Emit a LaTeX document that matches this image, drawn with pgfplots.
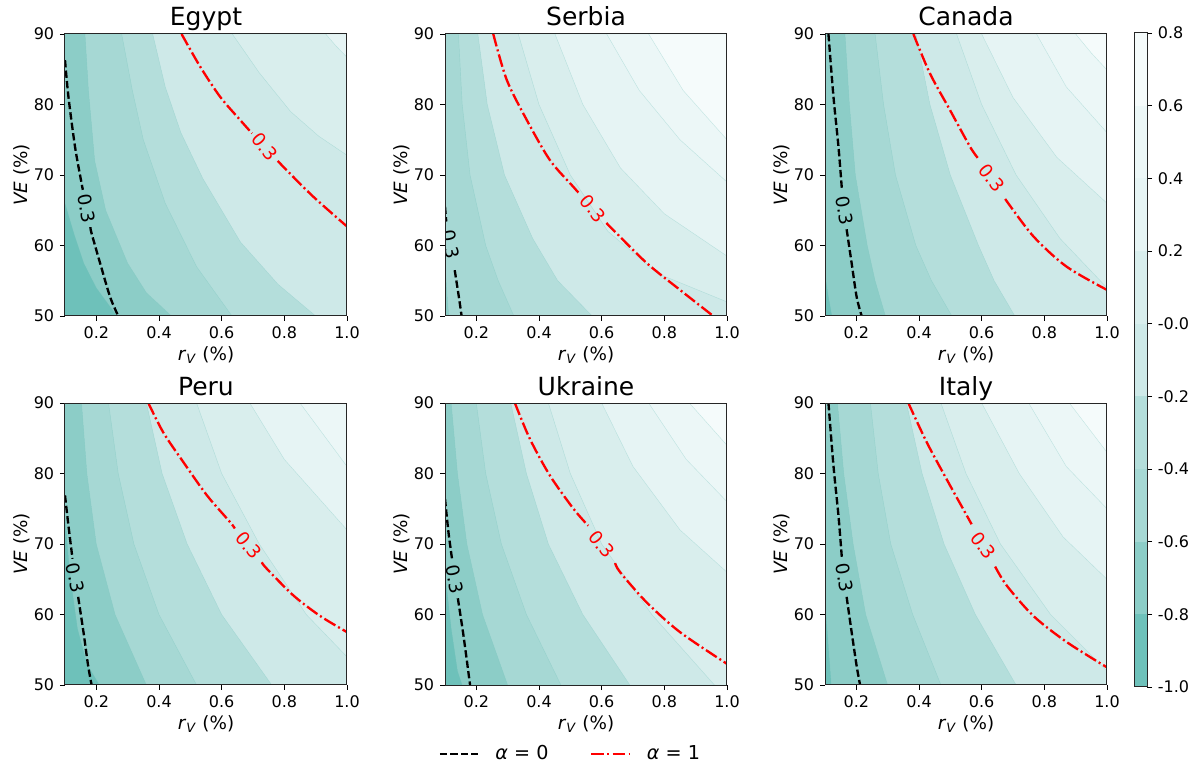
\documentclass[border=0pt]{standalone}
\usepackage{fontspec}
\setmainfont{DejaVu Sans}
\usepackage{pgfplots}
\pgfplotsset{compat=1.18}
\definecolor{D1}{RGB}{110,193,186}
\definecolor{D2}{RGB}{140,205,199}
\definecolor{D3}{RGB}{166,216,212}
\definecolor{D4}{RGB}{180,222,219}
\definecolor{D5}{RGB}{206,233,232}
\definecolor{D6}{RGB}{217,238,237}
\definecolor{D7}{RGB}{230,244,244}
\definecolor{D8}{RGB}{236,247,247}
\definecolor{D9}{RGB}{245,251,251}
\newcommand{\fillreg}[2]{\addplot[fill=#1,draw=D1,draw opacity=0.35,line width=0.25pt,forget plot] coordinates {#2} -- cycle;}
\newcommand{\cbreg}[2]{\addplot[fill=#1,draw=none,forget plot] coordinates {#2} -- cycle;}
\tikzset{
  alpha0/.style={black, line width=1.4pt, dash pattern=on 4.4pt off 1.9pt},
  alpha1/.style={red, line width=1.4pt, dash pattern=on 7.7pt off 1.9pt on 1.2pt off 1.9pt},
  lab0/.style={font=\fontsize{11}{13}\selectfont, text=black, inner sep=0pt},
  lab1/.style={font=\fontsize{11}{13}\selectfont, text=red, inner sep=0pt},
}
\pgfplotsset{
  panel/.style={
    scale only axis, width=169.2pt, height=169.2pt, anchor=south west,
    xmin=0.1, xmax=1, ymin=50, ymax=90,
    xtick={0.2,0.4,0.6,0.8,1.0}, xticklabels={0.2,0.4,0.6,0.8,1.0},
    ytick={50,60,70,80,90}, yticklabels={50,60,70,80,90},
    tick align=outside, xtick pos=bottom, ytick pos=left,
    major tick length=3pt,
    tick style={black, line width=0.5pt},
    axis line style={black!85, line width=0.6pt},
    axis on top,
    ticklabel style={font=\fontsize{9.6}{11}\selectfont},
    xlabel={\textit{r}\textsubscript{\textit{V}} (\%)},
    ylabel={\textit{VE} (\%)},
    label style={font=\fontsize{11}{13}\selectfont},
    xlabel style={at={(axis description cs:0.5,-0.14)}, anchor=center},
    ylabel style={at={(axis description cs:-0.152,0.5)}, anchor=center},
    title style={at={(0.5,1)}, anchor=base, yshift=-1.2pt, font=\fontsize{15}{17}\selectfont},
  },
  cl/.style={smooth, tension=0.5},
}
\begin{document}
\begin{tikzpicture}
\path[use as bounding box] (0,0) rectangle (722.4pt,460.2pt);
% ---------- Egypt ----------
\begin{axis}[panel, at={(39pt,270.6pt)}, title={Egypt}]
\fillreg{D1}{(0.1,50)(1,50)(1,90)(0.1,90)}
\fillreg{D2}{(0.1,66)(0.13,61.5)(0.16,57.5)(0.2,54)(0.266,50)(1,50)(1,90)(0.1,90)}
\fillreg{D3}{(0.164,90)(0.175,82)(0.195,72)(0.23,65)(0.30,57.5)(0.36,53.3)(0.44,50)(1,50)(1,90)}
\fillreg{D4}{(0.281,90)(0.315,82)(0.35,75)(0.42,66)(0.52,57)(0.633,50)(1,50)(1,90)}
\fillreg{D5}{(0.38,90)(0.42,82.5)(0.47,76)(0.54,69.5)(0.66,60.5)(0.78,54.5)(0.90,50)(1,50)(1,90)}
\fillreg{D6}{(0.634,90)(0.72,84.5)(0.82,79)(0.91,75.5)(1.0,72.8)(1,90)}
\fillreg{D7}{(0.932,90)(0.965,88.3)(1.0,86.7)(1,90)}
\addplot[alpha0, cl] coordinates {(0.1,86.3)(0.111,81.1)(0.132,74.0)(0.153,68.8)(0.157,67.9)};
\addplot[alpha0, cl] coordinates {(0.181,62.6)(0.185,61.7)(0.212,57.5)(0.244,52.7)(0.270,50)};
\node[lab0, rotate=-79] at (axis cs:0.169,65.3) {0.3};
\addplot[alpha1, cl] coordinates {(0.472,90)(0.531,85.4)(0.595,81.1)(0.659,77.8)(0.697,75.9)};
\addplot[alpha1, cl] coordinates {(0.779,72.0)(0.807,70.7)(0.893,66.9)(1.0,62.7)};
\node[lab1, rotate=-50] at (axis cs:0.738,74.0) {0.3};
\end{axis}
% ---------- Serbia ----------
\begin{axis}[panel, at={(267pt,270.6pt)}, title={Serbia}]
\fillreg{D2}{(0.1,50)(1,50)(1,90)(0.1,90)}
\fillreg{D3}{(0.1,58)(0.105,54)(0.112,50)(1,50)(1,90)(0.1,90)}
\fillreg{D4}{(0.143,90)(0.155,80)(0.18,70)(0.23,60)(0.27,55)(0.32,50)(1,50)(1,90)}
\fillreg{D5}{(0.205,90)(0.235,80)(0.29,70)(0.38,61)(0.46,55)(0.57,50)(1,50)(1,90)}
\fillreg{D6}{(0.334,90)(0.40,80)(0.5,70)(0.62,62)(0.78,56)(1.0,52)(1,90)}
\fillreg{D7}{(0.451,90)(0.54,80)(0.66,71)(0.8,64.5)(1.0,58.5)(1,90)}
\fillreg{D8}{(0.616,90)(0.72,82)(0.85,75)(1.0,69)(1,90)}
\fillreg{D9}{(0.75,90)(0.86,82)(1.0,75)(1,90)}
\addplot[alpha0, cl] coordinates {(0.1,65.5)(0.104,63.4)};
\addplot[alpha0, cl] coordinates {(0.131,56.5)(0.138,54.5)(0.146,52.2)(0.153,50)};
\node[lab0, rotate=-78] at (axis cs:0.118,60.2) {0.3};
\addplot[alpha1, cl] coordinates {(0.254,90)(0.297,83.5)(0.361,77.8)(0.435,72.1)(0.51,68.3)(0.532,67.2)};
\addplot[alpha1, cl] coordinates {(0.615,63.2)(0.637,62.2)(0.744,57.5)(0.85,53.7)(0.956,50)};
\node[lab1, rotate=-50] at (axis cs:0.573,65.2) {0.3};
\end{axis}
% ---------- Canada ----------
\begin{axis}[panel, at={(495pt,270.6pt)}, title={Canada}]
\fillreg{D1}{(0.1,50)(1,50)(1,90)(0.1,90)}
\fillreg{D2}{(0.1,56)(0.11,53)(0.122,50)(1,50)(1,90)(0.1,90)}
\fillreg{D3}{(0.164,90)(0.178,80)(0.197,70)(0.235,60)(0.26,55)(0.293,50)(1,50)(1,90)}
\fillreg{D4}{(0.26,90)(0.287,80)(0.325,70)(0.39,60)(0.44,55)(0.505,50)(1,50)(1,90)}
\fillreg{D5}{(0.39,90)(0.435,80)(0.5,70)(0.59,60)(0.64,55)(0.706,50)(1,50)(1,90)}
\fillreg{D6}{(0.52,90)(0.6,80)(0.71,70)(0.85,61)(1.0,54)(1,90)}
\fillreg{D7}{(0.6,90)(0.7,81)(0.84,72.5)(1.0,66)(1,90)}
\fillreg{D8}{(0.775,90)(0.87,82.5)(1.0,76)(1,90)}
\fillreg{D9}{(0.90,90)(0.95,87.3)(1.0,84.9)(1,90)}
\addplot[alpha0, cl] coordinates {(0.111,90)(0.127,81.1)(0.143,74.0)(0.154,67.9)};
\addplot[alpha0, cl] coordinates {(0.169,62.3)(0.185,57.5)(0.201,52.7)(0.217,50)};
\node[lab0, rotate=-80] at (axis cs:0.163,65.0) {0.3};
\addplot[alpha1, cl] coordinates {(0.382,90)(0.435,84.4)(0.499,79.2)(0.563,74.0)(0.588,72.4)};
\addplot[alpha1, cl] coordinates {(0.675,66.6)(0.765,61.3)(0.871,57.0)(1.0,53.7)};
\node[lab1, rotate=-52] at (axis cs:0.632,69.6) {0.3};
\end{axis}
% ---------- Peru ----------
\begin{axis}[panel, at={(39pt,49.2pt)}, title={Peru}]
\fillreg{D1}{(0.1,50)(1,50)(1,90)(0.1,90)}
\fillreg{D2}{(0.1,74)(0.115,66)(0.14,58)(0.17,53)(0.21,50)(1,50)(1,90)(0.1,90)}
\fillreg{D3}{(0.153,90)(0.17,80)(0.2,70)(0.26,60)(0.36,50)(1,50)(1,90)}
\fillreg{D4}{(0.239,90)(0.27,80)(0.32,70)(0.4,60)(0.52,50)(1,50)(1,90)}
\fillreg{D5}{(0.36,90)(0.41,80)(0.49,70)(0.6,60)(0.76,50)(1,50)(1,90)}
\fillreg{D6}{(0.52,90)(0.6,80)(0.72,70)(0.87,60)(1.0,54)(1,90)}
\fillreg{D7}{(0.69,90)(0.8,82)(1.0,72)(1,90)}
\fillreg{D8}{(0.85,90)(1.0,81)(1,90)}
\addplot[alpha0, cl] coordinates {(0.1,76.9)(0.111,72.6)(0.124,67.9)};
\addplot[alpha0, cl] coordinates {(0.142,62.5)(0.159,57.5)(0.174,52.7)(0.185,50)};
\node[lab0, rotate=-78] at (axis cs:0.133,65.2) {0.3};
\addplot[alpha1, cl] coordinates {(0.366,90)(0.414,85.8)(0.478,81.6)(0.553,76.9)(0.627,73.1)(0.642,72.2)};
\addplot[alpha1, cl] coordinates {(0.728,67.4)(0.744,66.5)(0.829,62.7)(0.914,59.8)(1.0,57.5)};
\node[lab1, rotate=-50] at (axis cs:0.686,69.8) {0.3};
\end{axis}
% ---------- Ukraine ----------
\begin{axis}[panel, at={(267pt,49.2pt)}, title={Ukraine},
  legend style={at={(0.447,-0.245)}, anchor=center, draw=none, fill=none,
    legend columns=2, font=\fontsize{11.5}{13}\selectfont,
    /tikz/every odd column/.append style={column sep=7.8pt},
    /tikz/every even column/.append style={column sep=23pt}},
  legend image code/.code={\draw[#1] (0pt,0pt) -- (22.8pt,0pt);}]
\fillreg{D1}{(0.1,50)(1,50)(1,90)(0.1,90)}
\fillreg{D2}{(0.1,66)(0.12,58)(0.14,52)(0.155,50)(1,50)(1,90)(0.1,90)}
\fillreg{D3}{(0.12,90)(0.14,80)(0.17,70)(0.22,60)(0.3,50)(1,50)(1,90)}
\fillreg{D4}{(0.2,90)(0.23,80)(0.28,70)(0.36,60)(0.47,50)(1,50)(1,90)}
\fillreg{D5}{(0.31,90)(0.36,80)(0.43,70)(0.54,60)(0.69,50)(1,50)(1,90)}
\fillreg{D6}{(0.43,90)(0.5,80)(0.6,70)(0.76,60)(0.96,50)(1,50)(1,90)}
\fillreg{D7}{(0.6,90)(0.7,81)(0.85,72)(1.0,66)(1,90)}
\fillreg{D8}{(0.75,90)(0.87,82)(1.0,76)(1,90)}
\fillreg{D9}{(0.88,90)(1.0,84)(1,90)}
\addplot[alpha0, cl] coordinates {(0.1,76.4)(0.111,71.7)(0.123,67.7)};
\addlegendentry{\textit{α} = 0}
\addplot[alpha1, cl] coordinates {(0.323,90)(0.371,84.9)(0.435,79.7)(0.51,75.0)(0.557,72.6)};
\addlegendentry{\textit{α} = 1}
\addplot[alpha0, cl, forget plot] coordinates {(0.141,62.3)(0.159,57.0)(0.180,50)};
\node[lab0, rotate=-78] at (axis cs:0.131,65.0) {0.3};
\addplot[alpha1, cl, forget plot] coordinates {(0.643,67.3)(0.659,66.0)(0.744,61.7)(0.85,57.5)(1.0,53.0)};
\node[lab1, rotate=-50] at (axis cs:0.60,70.0) {0.3};
\end{axis}
% ---------- Italy ----------
\begin{axis}[panel, at={(495pt,49.2pt)}, title={Italy}]
\fillreg{D1}{(0.1,50)(1,50)(1,90)(0.1,90)}
\fillreg{D2}{(0.1,62)(0.11,56)(0.12,50)(1,50)(1,90)(0.1,90)}
\fillreg{D3}{(0.14,90)(0.16,80)(0.19,70)(0.23,60)(0.3,50)(1,50)(1,90)}
\fillreg{D4}{(0.245,90)(0.27,80)(0.31,70)(0.38,60)(0.47,50)(1,50)(1,90)}
\fillreg{D5}{(0.36,90)(0.41,80)(0.48,70)(0.58,60)(0.71,50)(1,50)(1,90)}
\fillreg{D6}{(0.47,90)(0.55,80)(0.66,70)(0.82,60)(1.0,52)(1,90)}
\fillreg{D7}{(0.6,90)(0.72,80)(0.86,71)(1.0,65)(1,90)}
\fillreg{D8}{(0.75,90)(0.87,81)(1.0,75)(1,90)}
\fillreg{D9}{(0.88,90)(1.0,83)(1,90)}
\addplot[alpha0, cl] coordinates {(0.111,90)(0.127,81.1)(0.143,74.0)(0.154,67.9)};
\addplot[alpha0, cl] coordinates {(0.169,62.5)(0.185,57.5)(0.201,52.7)(0.212,50)};
\node[lab0, rotate=-80] at (axis cs:0.162,65.2) {0.3};
\addplot[alpha1, cl] coordinates {(0.366,90)(0.425,84.4)(0.488,79.2)(0.553,74.0)(0.568,72.8)};
\addplot[alpha1, cl] coordinates {(0.643,66.8)(0.680,64.1)(0.765,59.8)(0.871,56.1)(1.0,52.5)};
\node[lab1, rotate=-52] at (axis cs:0.605,69.8) {0.3};
\end{axis}
% ---------- colorbar ----------
\begin{axis}[scale only axis, width=7.8pt, height=392.4pt, anchor=south west, at={(680.4pt,48pt)},
  xmin=0, xmax=1, ymin=-1, ymax=0.8, xtick=\empty,
  ytick={-1,-0.8,-0.6,-0.4,-0.2,0,0.2,0.4,0.6,0.8},
  yticklabels={-1.0,-0.8,-0.6,-0.4,-0.2,-0.0,0.2,0.4,0.6,0.8},
  ytick pos=right, yticklabel pos=right, tick align=outside, major tick length=3pt,
  tick style={black, line width=0.5pt}, axis line style={black!85, line width=0.6pt},
  axis on top, ticklabel style={font=\fontsize{9.6}{11}\selectfont}]
\cbreg{D1}{(0,-1)(1,-1)(1,-0.8)(0,-0.8)}
\cbreg{D2}{(0,-0.8)(1,-0.8)(1,-0.6)(0,-0.6)}
\cbreg{D3}{(0,-0.6)(1,-0.6)(1,-0.4)(0,-0.4)}
\cbreg{D4}{(0,-0.4)(1,-0.4)(1,-0.2)(0,-0.2)}
\cbreg{D5}{(0,-0.2)(1,-0.2)(1,0)(0,0)}
\cbreg{D6}{(0,0)(1,0)(1,0.2)(0,0.2)}
\cbreg{D7}{(0,0.2)(1,0.2)(1,0.4)(0,0.4)}
\cbreg{D8}{(0,0.4)(1,0.4)(1,0.6)(0,0.6)}
\cbreg{D9}{(0,0.6)(1,0.6)(1,0.8)(0,0.8)}
\end{axis}
\end{tikzpicture}
\end{document}
